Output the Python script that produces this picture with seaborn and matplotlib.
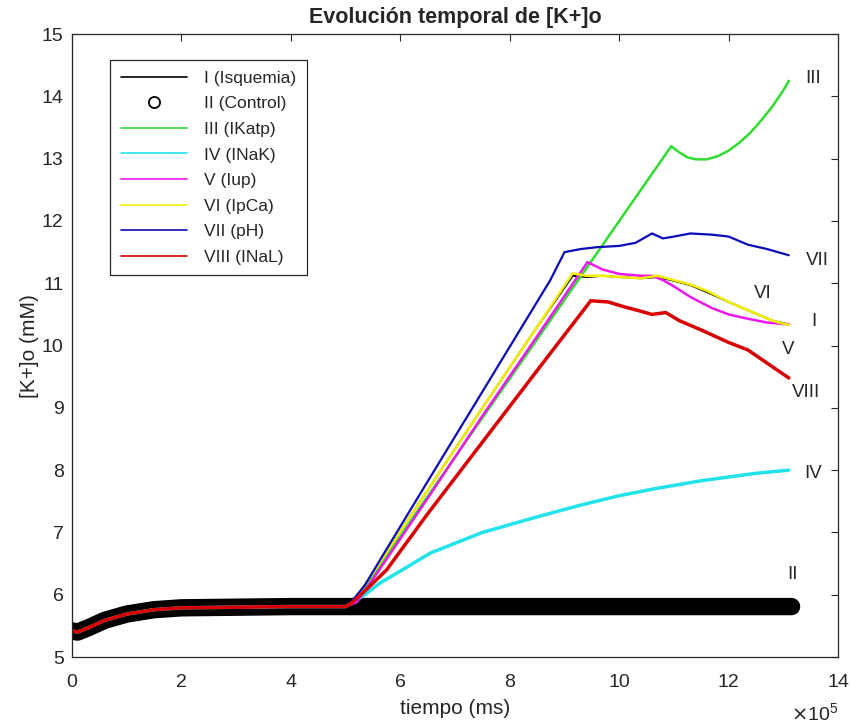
import numpy as np
import pandas as pd
import matplotlib
matplotlib.use("Agg")
import matplotlib.pyplot as plt
from matplotlib.lines import Line2D
import seaborn as sns

# ==========================================
# DATA (time in units of 1e5 ms, [K+]o in mM)
# ==========================================
# shared pre-ischemia baseline (0 .. 5e5 ms)
base_t = [0.0, 0.1, 0.3, 0.6, 1.0, 1.5, 2.0, 3.0, 4.0, 5.0]
base_k = [5.42, 5.40, 5.47, 5.59, 5.69, 5.76, 5.79, 5.80, 5.81, 5.81]

# II (Control) keeps the baseline
ctrl_t = [7.0, 9.0, 11.0, 13.15]
ctrl_k = [5.81, 5.81, 5.81, 5.81]

# after 5e5 ms, one pair of arrays per scenario
isq_t = [5.15, 5.5, 6.5, 7.5, 8.5, 9.15, 9.4, 9.7, 10.0, 10.4, 10.7, 11.0, 11.3, 11.6, 12.0, 12.4, 12.8, 13.1]
isq_k = [5.90, 6.35, 7.68, 9.00, 10.30, 11.12, 11.10, 11.12, 11.10, 11.08, 11.10, 11.04, 10.97, 10.86, 10.70, 10.55, 10.40, 10.34]

katp_t = [5.15, 5.5, 6.5, 7.5, 8.5, 9.25, 10.0, 10.95, 11.1, 11.25, 11.4, 11.6, 11.8, 12.0, 12.2, 12.4, 12.6, 12.8, 13.0, 13.1]
katp_k = [5.88, 6.30, 7.58, 8.84, 10.10, 11.05, 12.00, 13.20, 13.10, 13.02, 12.99, 12.99, 13.04, 13.13, 13.26, 13.42, 13.62, 13.84, 14.10, 14.25]

nak_t = [5.1, 5.35, 5.63, 6.0, 6.55, 7.5, 8.5, 9.3, 10.0, 10.7, 11.5, 12.5, 13.1]
nak_k = [5.86, 6.00, 6.19, 6.38, 6.67, 7.00, 7.25, 7.44, 7.59, 7.71, 7.83, 7.95, 8.00]

iup_t = [5.2, 5.5, 6.5, 7.5, 8.5, 9.42, 9.7, 10.0, 10.4, 10.6, 10.8, 11.0, 11.3, 11.7, 12.0, 12.3, 12.7, 13.1]
iup_k = [5.88, 6.25, 7.55, 8.87, 10.15, 11.34, 11.22, 11.15, 11.12, 11.12, 11.05, 10.95, 10.78, 10.60, 10.50, 10.44, 10.37, 10.34]

ipca_t = [5.15, 5.5, 6.5, 7.5, 8.5, 9.15, 9.4, 9.7, 10.0, 10.4, 10.7, 11.0, 11.3, 11.6, 12.0, 12.4, 12.8, 13.1]
ipca_k = [5.90, 6.35, 7.68, 9.00, 10.30, 11.16, 11.12, 11.12, 11.10, 11.08, 11.12, 11.05, 10.98, 10.88, 10.70, 10.55, 10.40, 10.33]

ph_t = [5.1, 5.35, 5.63, 6.5, 7.5, 8.74, 9.0, 9.3, 9.6, 10.0, 10.3, 10.6, 10.8, 11.0, 11.3, 11.7, 12.0, 12.35, 12.7, 13.1]
ph_k = [5.88, 6.15, 6.56, 7.82, 9.26, 11.05, 11.50, 11.55, 11.58, 11.60, 11.65, 11.80, 11.72, 11.75, 11.80, 11.78, 11.75, 11.62, 11.55, 11.45]

nal_t = [5.1, 5.4, 5.75, 6.5, 7.5, 8.5, 9.48, 9.8, 10.1, 10.4, 10.6, 10.85, 11.1, 11.5, 12.0, 12.35, 12.7, 13.1]
nal_k = [5.86, 6.10, 6.40, 7.30, 8.45, 9.60, 10.72, 10.70, 10.62, 10.55, 10.50, 10.53, 10.40, 10.25, 10.05, 9.93, 9.72, 9.48]

labels = ["I (Isquemia)", "II (Control)", "III (IKatp)", "IV (INaK)",
          "V (Iup)", "VI (IpCa)", "VII (pH)", "VIII (INaL)"]
short = ["I", "II", "III", "IV", "V", "VI", "VII", "VIII"]
colors = ["#000000", "#000000", "#30dc30", "#22e2ea", "#ee18ee", "#f2f000", "#0c0cb8", "#d80000"]

series = {
    "I": (isq_t, isq_k),
    "III": (katp_t, katp_k),
    "IV": (nak_t, nak_k),
    "V": (iup_t, iup_k),
    "VI": (ipca_t, ipca_k),
    "VII": (ph_t, ph_k),
    "VIII": (nal_t, nal_k),
}

# where the roman numerals sit at the right end of each curve
tag_pos = {
    "III": (13.55, 14.28), "VII": (13.62, 11.36), "VI": (12.63, 10.84),
    "I": (13.56, 10.39), "V": (13.09, 9.94), "VIII": (13.42, 9.24),
    "IV": (13.55, 7.95), "II": (13.16, 6.33),
}

# ==========================================
# PLOT
# ==========================================
sns.set_style("white")
plt.rcParams["font.family"] = ["Liberation Sans", "DejaVu Sans"]
txt_col = "#262626"

fig = plt.figure(figsize=(8.5, 7.26), dpi=100)
ax = fig.add_axes([0.0847, 0.095, 0.9013, 0.858])

# control: dense circles in the original -> thick black band
sns.lineplot(x=base_t + ctrl_t, y=base_k + ctrl_k, ax=ax, color="black",
             lw=12.5, sort=False, estimator=None, solid_capstyle="round")

widths = {"I": 1.4, "III": 1.8, "IV": 2.5, "V": 1.8, "VI": 1.8, "VII": 1.6, "VIII": 2.5}
for name, col in zip(short, colors):
    if name == "II":
        continue
    t, k = series[name]
    sns.lineplot(x=base_t + t, y=base_k + k, ax=ax, color=col, lw=widths[name],
                 sort=False, estimator=None)

for name, (x, y) in tag_pos.items():
    ax.text(x, y, name, ha="center", va="center", fontsize=13.5, color=txt_col)

ax.set_xlim(0, 14)
ax.set_ylim(5, 15)
ax.set_xticks(np.arange(0, 15, 2))
ax.set_yticks(np.arange(5, 16, 1))
ax.tick_params(direction="in", top=True, right=True, length=5, width=0.8,
               labelsize=14, colors=txt_col, pad=6)
ax.tick_params(axis="x", pad=12)
for sp in ax.spines.values():
    sp.set_color(txt_col)
    sp.set_linewidth(0.9)

ax.set_title("Evolución temporal de [K+]o", fontsize=15.5, fontweight="bold", pad=8)
ax.set_xlabel("tiempo (ms)", fontsize=15, color=txt_col, labelpad=6)
ax.set_ylabel("[K+]o (mM)", fontsize=15, color=txt_col, labelpad=2)
ax.text(1.0, -0.09, r"$\times\mathregular{10^5}$", transform=ax.transAxes,
        ha="right", va="center", fontsize=14, color=txt_col)

handles = []
for name, col in zip(short, colors):
    if name == "II":
        handles.append(Line2D([], [], ls="none", marker="o", ms=8, mfc="none",
                              mec="black", mew=1.3))
    else:
        handles.append(Line2D([], [], color=col, lw=1.2))
leg = ax.legend(handles, labels, loc="upper left", bbox_to_anchor=(0.05, 0.958),
                borderaxespad=0, fontsize=12.5, handlelength=3.8, handletextpad=1.0,
                labelspacing=0.6, borderpad=0.6, fancybox=False, framealpha=1)
leg.get_frame().set_edgecolor(txt_col)
leg.get_frame().set_linewidth(0.9)

plt.savefig("out.png", dpi=100)
